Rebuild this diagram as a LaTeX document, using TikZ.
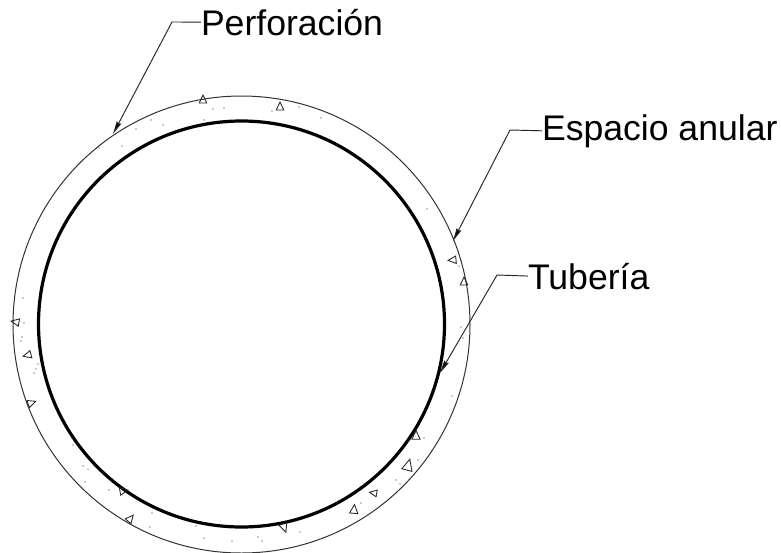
\documentclass[tikz,border=0pt]{standalone}
\usepackage{fontspec}
\setmainfont{Liberation Sans}
\usetikzlibrary{arrows.meta}
\tikzset{
  labeltext/.style={anchor=base west,inner sep=0pt,outer sep=0pt,font=\fontsize{35.6}{40}\selectfont,text=black},
  leader/.style={draw=black!85,line width=0.95pt,-{Stealth[length=13pt,width=5pt,inset=1pt,fill=black]}},
  bore/.style={draw=black!80,line width=1pt},
  pipe/.style={draw=black,line width=3.2pt},
  aggregate/.style={draw=black!85,line width=0.85pt,line join=miter},
  grain/.style={fill=black!85,draw=none}
}
\begin{document}
\begin{tikzpicture}[x=1pt,y=-1pt]
\useasboundingbox (0,0) rectangle (781,552);
\fill[white] (0,0) rectangle (781,552);
% circles
\node[bore,circle,minimum size=457pt,inner sep=0pt,outer sep=0pt] (perforacion) at (241.5,324.5) {};
\node[pipe,circle,minimum size=406pt,inner sep=0pt,outer sep=0pt] (tuberia) at (241.5,324) {};
% aggregate triangles: x, y, size, rotation
\foreach \px/\py/\sz/\rt in {16/322/5/170,28/355/5/195,31/403/5/20,123/491/5/10,130/519/5/50,
  416/436/5.5/90,408/466/7/75,374/493/4.5/170,354/510/5.5/85,284/527/5.5/290,
  453/260/5/185,464/282/5/90,203/100/5/90,280/107/5/90}{
  \draw[aggregate,shift={(\px,\py)},rotate=\rt,y=-1pt] (\sz,0) -- (-0.6*\sz,0.75*\sz) -- (-0.6*\sz,-0.75*\sz) -- cycle;
}
% sand grains
\foreach \px/\py in {23/298,24/323,22/337,21/341,38/364,36/369,34/373,73/445,83/466,88/469,85/482,109/490,152/513,150/527,196/526,204/538,232/541,
  452/396,424/438,418/460,396/480,400/484,361/503,300/532,258/537,262/541,
  427/209,459/266,461/327,463/338,
  213/109,224/108,272/111,299/107,321/118,204/120,163/125,151/120,136/129,122/146,99/148}{
  \fill[grain] (\px,\py) circle (0.7pt);
}
% labels
\node[labeltext] (perf) at (201,35) {Perforación};
\node[labeltext] (esp) at (542,140) {Espacio anular};
\node[labeltext] (tub) at (528,289) {Tubería};
% leader ends
\coordinate (perfBend) at (172,22);
\coordinate (perfTip) at (113,134);
\coordinate (espBend) at (510,130);
\coordinate (espTip) at (453,241);
\coordinate (tubBend) at (497,275);
\coordinate (tubTip) at (440,373);
\draw[leader] (perf.west) -- (perfBend) -- (perfTip);
\draw[leader] (esp.west) -- (espBend) -- (espTip);
\draw[leader] (tub.west) -- (tubBend) -- (tubTip);
\end{tikzpicture}
\end{document}
